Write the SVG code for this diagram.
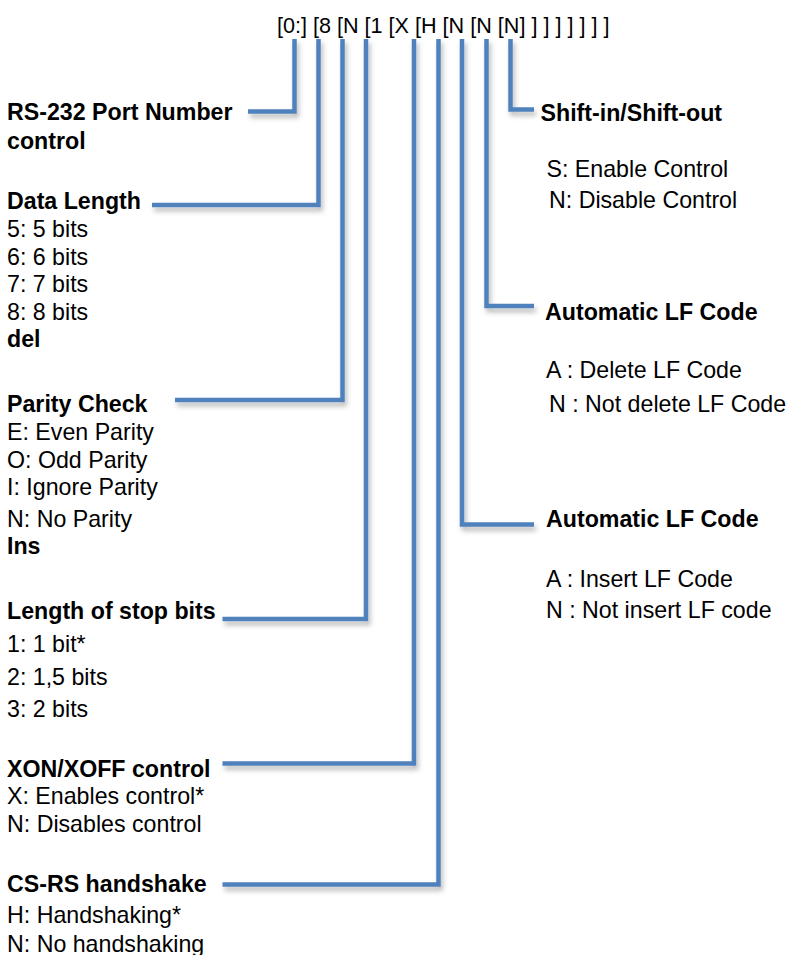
<svg xmlns="http://www.w3.org/2000/svg" width="787" height="955" viewBox="0 0 787 955">
<style>
text{font-family:"Liberation Sans",Arial,sans-serif;font-size:23.2px;fill:#000}
.b{font-weight:bold}
.hdr{font-size:21.6px}
.c{fill:none;stroke:#4F81BD;stroke-width:4.5;stroke-linejoin:miter;stroke-linecap:butt}
</style>
<defs>
<filter id="sh" x="-20%" y="-20%" width="140%" height="140%">
<feDropShadow dx="2" dy="4" stdDeviation="2.5" flood-color="#000" flood-opacity="0.28"/>
</filter>
</defs>
<rect width="787" height="955" fill="#fff"/>
<g id="header"><text class="hdr" x="277" y="33">[0:] [8 [N [1 [X [H [N [N [N] ] ] ] ] ] ] ]</text></g>
<g id="connectors" filter="url(#sh)">
<path class="c" d="M294.5,39 V111.5 H248"/>
<path class="c" d="M318.5,39 V205 H152"/>
<path class="c" d="M342.5,39 V400 H175"/>
<path class="c" d="M366,39 V619 H222.5"/>
<path class="c" d="M414,39 V763.5 H222.5"/>
<path class="c" d="M438.5,39 V884.5 H222.5"/>
<path class="c" d="M462,39 V524.5 H534"/>
<path class="c" d="M486.5,39 V306 H534"/>
<path class="c" d="M510.5,39 V109.5 H534"/>
</g>
<g id="port">
<text class="b" x="7" y="120">RS-232 Port Number</text>
<text class="b" x="7" y="149">control</text>
</g>
<g id="datalength">
<text class="b" x="7" y="209">Data Length</text>
<text x="7" y="237">5: 5 bits</text>
<text x="7" y="265">6: 6 bits</text>
<text x="7" y="292">7: 7 bits</text>
<text x="7" y="320">8: 8 bits</text>
<text class="b" x="7" y="347">del</text>
</g>
<g id="parity">
<text class="b" x="7" y="412">Parity Check</text>
<text x="7" y="440">E: Even Parity</text>
<text x="7" y="467.5">O: Odd Parity</text>
<text x="7" y="495">I: Ignore Parity</text>
<text x="7" y="526.5">N: No Parity</text>
<text class="b" x="7" y="554">Ins</text>
</g>
<g id="stopbits">
<text class="b" x="7" y="619">Length of stop bits</text>
<text x="7" y="651.5">1: 1 bit*</text>
<text x="7" y="685">2: 1,5 bits</text>
<text x="7" y="717">3: 2 bits</text>
</g>
<g id="xonxoff">
<text class="b" x="7" y="776.5">XON/XOFF control</text>
<text x="7" y="804">X: Enables control*</text>
<text x="7" y="831.5">N: Disables control</text>
</g>
<g id="handshake">
<text class="b" x="7" y="891.5">CS-RS handshake</text>
<text x="7" y="923">H: Handshaking*</text>
<text x="7" y="951.5">N: No handshaking</text>
</g>
<g id="shift">
<text class="b" x="540.5" y="120.5">Shift-in/Shift-out</text>
<text x="546.5" y="176.5">S: Enable Control</text>
<text x="549" y="208">N: Disable Control</text>
</g>
<g id="lfdelete">
<text class="b" x="545" y="320">Automatic LF Code</text>
<text x="546" y="378">A : Delete LF Code</text>
<text x="549" y="411.5">N : Not delete LF Code</text>
</g>
<g id="lfinsert">
<text class="b" x="546" y="526.5">Automatic LF Code</text>
<text x="546" y="586.5">A : Insert LF Code</text>
<text x="546" y="618">N : Not insert LF code</text>
</g>
</svg>
